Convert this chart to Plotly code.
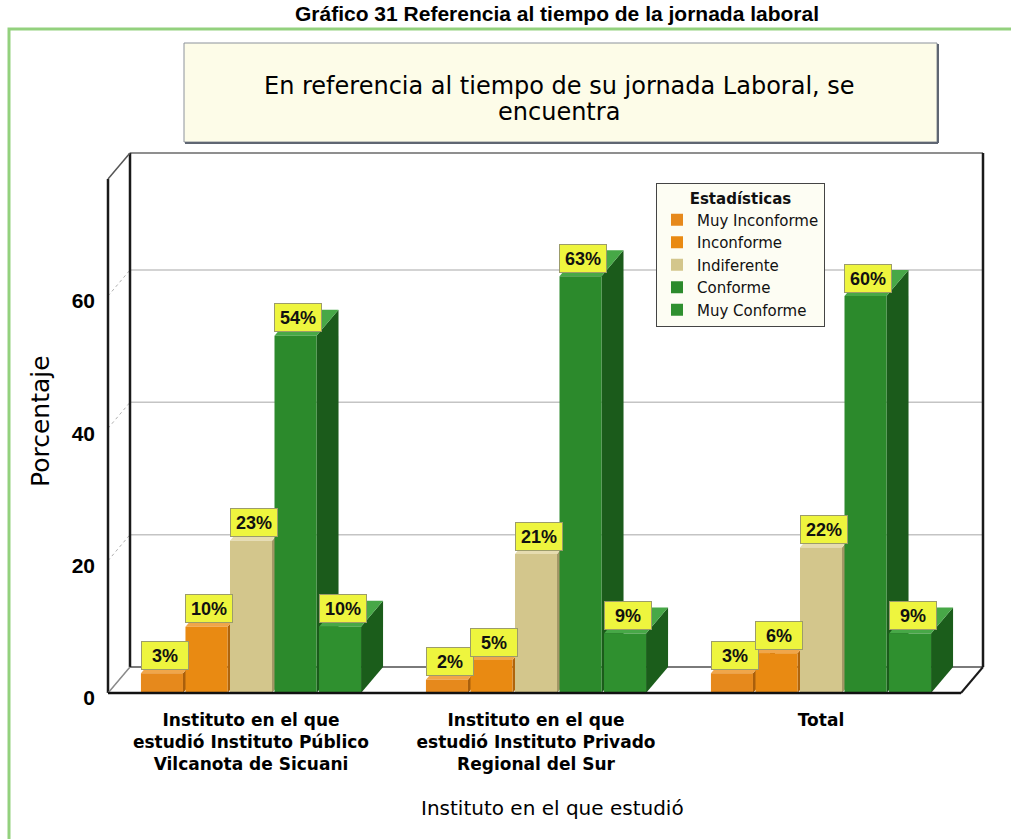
import plotly.graph_objects as go

# ---------------- data ----------------
categories = [
    "Instituto Público Vilcanota de Sicuani",
    "Instituto Privado Regional del Sur",
    "Total",
]
category_labels = [
    "Instituto en el que<br>estudió Instituto Público<br>Vilcanota de Sicuani",
    "Instituto en el que<br>estudió Instituto Privado<br>Regional del Sur",
    "Total",
]
series_names = ["Muy Inconforme", "Inconforme", "Indiferente", "Conforme", "Muy Conforme"]
muy_inconforme = [3, 2, 3]
inconforme = [10, 5, 6]
indiferente = [23, 21, 22]
conforme = [54, 63, 60]
muy_conforme = [10, 9, 9]
y_tick_values = [0, 20, 40, 60]

series_values = [muy_inconforme, inconforme, indiferente, conforme, muy_conforme]

# ---------------- styles ----------------
front_colors = ["#e6891c", "#e98a12", "#d3c68c", "#2c8a2c", "#2f902f"]
side_colors = ["#a95f0c", "#b0640a", "#a39766", "#1b5b1b", "#1b5d1b"]
top_colors = ["#f0a64a", "#f0a64a", "#e6dcb0", "#47a847", "#47a847"]

W, H = 1011, 839
# plot area in pixels
L, R, T, B = 98, 995, 143, 700
PX_PER_CAT = 285.0
PX_PER_UNIT = 6.617
CENTER0_PX = 251.0
FLOOR_PX = 693.0

def xd(px):
    return (px - CENTER0_PX) / PX_PER_CAT

def yd(py):
    return (FLOOR_PX - py) / PX_PER_UNIT

def xp(px):
    return (px - L) / (R - L)

def yp(py):
    return (B - py) / (B - T)

DX = 22 / PX_PER_CAT
DY = 26 / PX_PER_UNIT
XL = xd(108)          # front-left edge
XR = xd(983)          # back-right edge
YTOP = yd(153)        # back-top edge
YTOP_F = YTOP - DY    # front-top edge

BARGAP = 0.219
BARGROUPGAP = 0.056

fig = go.Figure()

for j, name in enumerate(series_names):
    fig.add_trace(go.Bar(
        x=categories, y=series_values[j], name=name,
        marker=dict(color=front_colors[j], line=dict(width=0)),
        hoverinfo="skip",
    ))

shapes = []
# back wall grid lines
for v in y_tick_values[1:]:
    shapes.append(dict(type="line", xref="x", yref="y", x0=XL + DX, x1=XR, y0=v + DY, y1=v + DY,
                       line=dict(color="#c4c4c4", width=1.5), layer="below"))
# dotted diagonals from the tick labels to the wall
for v in y_tick_values:
    shapes.append(dict(type="line", xref="x", yref="y", x0=XL, x1=XL + DX, y0=v, y1=v + DY,
                       line=dict(color="#b0b0b0", width=1, dash="dot"), layer="below"))
# wall outlines
shapes += [
    dict(type="line", xref="x", yref="y", x0=XL + DX, x1=XR, y0=YTOP, y1=YTOP,
         line=dict(color="#6a6a6a", width=1.5), layer="below"),
    dict(type="line", xref="x", yref="y", x0=XL + DX, x1=XR, y0=DY, y1=DY,
         line=dict(color="#7a7a7a", width=2), layer="below"),
    dict(type="line", xref="x", yref="y", x0=XL + DX, x1=XL + DX, y0=DY, y1=YTOP,
         line=dict(color="#1a1a1a", width=2.5), layer="below"),
    dict(type="line", xref="x", yref="y", x0=XR, x1=XR, y0=DY, y1=YTOP,
         line=dict(color="#1a1a1a", width=2.5), layer="below"),
    dict(type="line", xref="x", yref="y", x0=XL, x1=XL, y0=0, y1=YTOP_F,
         line=dict(color="#1a1a1a", width=2.5), layer="below"),
    dict(type="line", xref="x", yref="y", x0=XL, x1=XL + DX, y0=YTOP_F, y1=YTOP,
         line=dict(color="#555555", width=1.5), layer="below"),
    dict(type="line", xref="x", yref="y", x0=XL, x1=XL + DX, y0=0, y1=DY,
         line=dict(color="#8a8a8a", width=1.5), layer="below"),
    dict(type="line", xref="x", yref="y", x0=XR - DX, x1=XR, y0=0, y1=DY,
         line=dict(color="#1a1a1a", width=2), layer="below"),
]

# 3D side / top faces of bars (computed from values through the axes)
group_w = 1 - BARGAP
slot = group_w / len(series_names)
bw = slot * (1 - BARGROUPGAP)
side_shapes, top_shapes, annotations = [], [], []
for i in range(len(categories)):
    for j in range(len(series_names)):
        v = series_values[j][i]
        c = i - group_w / 2 + (j + 0.5) * slot
        x0, x1 = c - bw / 2, c + bw / 2
        side_shapes.append(dict(
            type="path", xref="x", yref="y", layer="below", line=dict(width=0),
            fillcolor=side_colors[j],
            path=f"M{x1},0 L{x1 + DX},{DY} L{x1 + DX},{v + DY} L{x1},{v} Z"))
        top_shapes.append(dict(
            type="path", xref="x", yref="y", layer="below", line=dict(width=0),
            fillcolor=top_colors[j],
            path=f"M{x0},{v} L{x0 + DX},{v + DY} L{x1 + DX},{v + DY} L{x1},{v} Z"))
        annotations.append(dict(
            x=c + 0.01, y=v + 2.7, xref="x", yref="y", text=f"{v}%", showarrow=False,
            font=dict(family="Liberation Sans Narrow, Arial Narrow, Liberation Sans", size=18,
                      color="#111111", weight="bold"),
            bgcolor="#eef53e", bordercolor="#9c9c6a", borderwidth=1, borderpad=3,
            width=40, height=21, xanchor="center", yanchor="middle"))
shapes += side_shapes + top_shapes

# front floor line over bars
shapes.append(dict(type="line", xref="x", yref="y", x0=XL, x1=XR - DX, y0=0, y1=0,
                   line=dict(color="#111111", width=2.5), layer="above"))

# outer green frame and title box
shapes.append(dict(type="rect", xref="paper", yref="paper", x0=xp(9), x1=xp(1030), y0=yp(29), y1=yp(870),
                   line=dict(color="#93d17e", width=3), fillcolor="rgba(0,0,0,0)", layer="below"))
shapes.append(dict(type="rect", xref="paper", yref="paper", x0=xp(184), x1=xp(937), y0=yp(142), y1=yp(43),
                   line=dict(color="#8c929b", width=1), fillcolor="#fdfce8", layer="below"))
shapes.append(dict(type="line", xref="paper", yref="paper", x0=xp(185), x1=xp(938), y0=yp(143), y1=yp(143),
                   line=dict(color="#5f6672", width=2), layer="below"))
shapes.append(dict(type="line", xref="paper", yref="paper", x0=xp(938), x1=xp(938), y0=yp(44), y1=yp(143),
                   line=dict(color="#5f6672", width=2), layer="below"))

annotations += [
    dict(x=xp(557), y=yp(13), xref="paper", yref="paper", showarrow=False,
         text="Gráfico 31 Referencia al tiempo de la jornada laboral",
         font=dict(family="Liberation Sans", size=21, color="#000000", weight="bold"),
         xanchor="center", yanchor="middle"),
    dict(x=xp(559), y=yp(86), xref="paper", yref="paper", showarrow=False,
         text="En referencia al tiempo de su jornada Laboral, se",
         font=dict(family="DejaVu Sans", size=24, color="#000000"),
         xanchor="center", yanchor="middle"),
    dict(x=xp(559), y=yp(112), xref="paper", yref="paper", showarrow=False,
         text="encuentra",
         font=dict(family="DejaVu Sans", size=24, color="#000000"),
         xanchor="center", yanchor="middle"),
    dict(x=xp(40), y=yp(421), xref="paper", yref="paper", showarrow=False,
         text="Porcentaje", textangle=-90,
         font=dict(family="DejaVu Sans", size=25, color="#000000"),
         xanchor="center", yanchor="middle"),
    dict(x=xp(552), y=yp(808), xref="paper", yref="paper", showarrow=False,
         text="Instituto en el que estudió",
         font=dict(family="DejaVu Sans", size=20, color="#000000"),
         xanchor="center", yanchor="middle"),
]

fig.update_layout(
    width=W, height=H,
    margin=dict(l=L, r=W - R, t=T, b=H - B, autoexpand=False),
    paper_bgcolor="white", plot_bgcolor="white",
    barmode="group", bargap=BARGAP, bargroupgap=BARGROUPGAP,
    shapes=shapes, annotations=annotations,
    showlegend=True,
    legend=dict(
        x=xp(656), y=yp(183), xanchor="left", yanchor="top",
        bgcolor="#fdfdf3", bordercolor="#444444", borderwidth=1,
        font=dict(family="DejaVu Sans", size=15, color="#111111"),
        title=dict(text="Estadísticas", side="top center",
                   font=dict(family="DejaVu Sans", size=15, color="#111111", weight="bold")),
        itemwidth=30, tracegroupgap=0, itemclick=False, itemdoubleclick=False,
    ),
    xaxis=dict(
        type="category", range=[xd(L), xd(R)], showgrid=False, zeroline=False, showline=False,
        ticks="", tickvals=categories, ticktext=category_labels, ticklabelstandoff=8,
        tickfont=dict(family="DejaVu Sans", size=17, color="#000000", weight="bold"),
        fixedrange=True,
    ),
    yaxis=dict(
        range=[yd(B), yd(T)], showgrid=False, zeroline=False, showline=False,
        ticks="", tickvals=y_tick_values, ticklabelstandoff=2, ticklabelshift=5,
        tickfont=dict(family="Liberation Sans Narrow, Arial Narrow, Liberation Sans", size=21,
                      color="#000000", weight="bold"),
        fixedrange=True,
    ),
)

fig.write_html("out.html", config={"displayModeBar": False})
